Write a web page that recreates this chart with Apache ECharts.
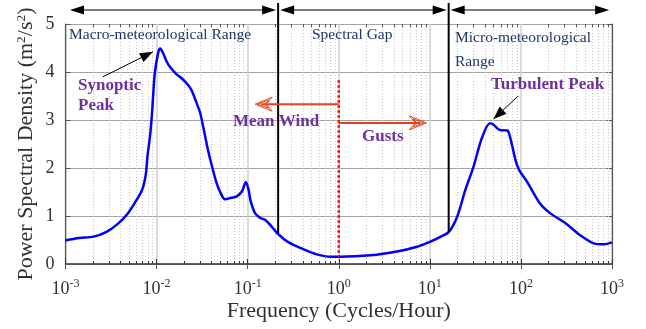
<!DOCTYPE html>
<html>
<head>
<meta charset="utf-8">
<script src="https://cdn.jsdelivr.net/npm/echarts@6/dist/echarts.min.js"></script>
<style>
  html, body { margin: 0; padding: 0; background: #fff; }
  #chart { width: 646px; height: 329px; }
</style>
</head>
<body>
<div id="chart"></div>
<script>
// Wind-speed power spectrum (van der Hoven style)
const freq = [0.001, 0.00141, 0.00204, 0.00282, 0.00372, 0.00468, 0.00575, 0.00692, 0.00759, 0.00794,
  0.00851, 0.00891, 0.00955, 0.01047, 0.01096, 0.01175, 0.01288, 0.01413, 0.0166, 0.0191,
  0.0224, 0.0245, 0.0282, 0.0302, 0.0355, 0.0389, 0.0457, 0.0513, 0.0562, 0.0661,
  0.0759, 0.0871, 0.0955, 0.1023, 0.1072, 0.1202, 0.138, 0.155, 0.178, 0.214,
  0.282, 0.407, 0.575, 0.813, 1.02, 2.24, 4.37, 7.24, 10, 13.2,
  16.2, 20, 24.5, 30.2, 37.2, 45.7, 50.1, 58.9, 70.8, 75.9,
  87.1, 95.5, 117, 162, 209, 309, 447, 631, 813, 1000];
const psd = [0.49, 0.54, 0.57, 0.67, 0.83, 1.02, 1.27, 1.54, 1.85, 2.24,
  2.70, 3.14, 3.97, 4.42, 4.49, 4.40, 4.22, 4.10, 3.95, 3.86,
  3.72, 3.60, 3.30, 3.14, 2.50, 2.17, 1.68, 1.45, 1.35, 1.38,
  1.41, 1.52, 1.71, 1.55, 1.33, 1.06, 0.96, 0.92, 0.81, 0.63,
  0.45, 0.31, 0.20, 0.15, 0.15, 0.18, 0.26, 0.36, 0.46, 0.57,
  0.67, 0.99, 1.54, 2.03, 2.62, 2.93, 2.90, 2.79, 2.78, 2.65,
  2.17, 1.96, 1.71, 1.26, 1.06, 0.85, 0.60, 0.43, 0.41, 0.45];

// Range boundaries (cycles/hour) and the spectrum level where each boundary line stops
const rangeBounds = [0.216, 16.1];
const boundLevels = [0.63, 0.67];
const splitFreq = 1.0;      // mean wind / gusts divide
const splitTop = 3.83;
const splitLevel = 0.15;
const meanWindArrow = { from: 1.0, to: 0.121, level: 3.33 };
const gustArrow = { from: 1.0, to: 9.16, level: 2.94 };
const synopticArrow = { from: [0.00257, 3.90], to: [0.00912, 4.42] };
const turbulentArrow = { from: [93.3, 3.5], to: [50.1, 3.02] };

const xMin = 0.001, xMax = 1000;
const yMin = 0, yMax = 5;

// minor log gridline positions 2..9 x 10^k
const minorFreqs = [];
for (let k = -3; k < 3; k++) {
  for (let m = 2; m <= 9; m++) minorFreqs.push(m * Math.pow(10, k));
}

const FONT = 'Liberation Serif';
const NAVY = '#1f3767';
const PURPLE = '#7030a0';
const RED = '#e8401c';
const INK = '#303030';

const chart = echarts.init(document.getElementById('chart'));

const supRich = {
  b: { fontFamily: FONT, fontSize: 18, color: INK, lineHeight: 22 },
  s: { fontFamily: FONT, fontSize: 12, color: INK, lineHeight: 22, padding: [0, 0, 10, 0] }
};

const gridBox = { left: 65.5, right: 34, top: 24, bottom: 65 };

chart.setOption({
  animation: false,
  grid: Object.assign({ containLabel: false, outerBoundsMode: 'none' }, gridBox),
  xAxis: [{
    type: 'log', logBase: 10, min: xMin, max: xMax,
    name: 'Frequency (Cycles/Hour)', nameLocation: 'middle', nameGap: 36,
    nameMoveOverlap: false,
    nameTextStyle: { fontFamily: FONT, fontSize: 22, color: INK },
    axisLine: { show: true, lineStyle: { color: '#333', width: 1.5 } },
    axisTick: { show: true, inside: true, length: 5, lineStyle: { color: '#333', width: 1 } },
    axisLabel: {
      margin: 14,
      formatter: v => '{b|10}{s|' + Math.round(Math.log10(v)) + '}',
      rich: supRich
    },
    splitLine: { show: true, lineStyle: { color: '#cfcfcf', width: 1.5 } }
  }, {
    type: 'log', logBase: 10, min: xMin, max: xMax, position: 'top',
    axisLine: { show: true, lineStyle: { color: '#555', width: 1.2 } },
    axisTick: { show: true, inside: true, length: 5, lineStyle: { color: '#555' } },
    axisLabel: { show: false }, splitLine: { show: false }
  }],
  yAxis: [{
    type: 'value', min: yMin, max: yMax, interval: 1,
    name: '{a|Power Spectral Density (m}{s|2}{a|/s}{s|2}{a|)}',
    nameLocation: 'middle', nameGap: 26, nameRotate: 90,
    nameMoveOverlap: false,
    nameTextStyle: {
      rich: {
        a: { fontFamily: FONT, fontSize: 22, color: INK, lineHeight: 26 },
        s: { fontFamily: FONT, fontSize: 13.5, color: INK, lineHeight: 26, padding: [0, 0, 11, 0] }
      }
    },
    axisLine: { show: true, lineStyle: { color: '#555', width: 1.2 } },
    axisTick: { show: true, inside: true, length: 5, lineStyle: { color: '#555' } },
    axisLabel: { margin: 11, fontFamily: FONT, fontSize: 18, color: INK },
    splitLine: { show: true, lineStyle: { color: '#a3a3a3', width: 1 } }
  }, {
    type: 'value', min: yMin, max: yMax, interval: 1, position: 'right',
    axisLine: { show: true, lineStyle: { color: '#555', width: 1.2 } },
    axisTick: { show: true, inside: true, length: 5, lineStyle: { color: '#555' } },
    axisLabel: { show: false }, splitLine: { show: false }
  }],
  series: [{
    // dotted minor gridlines and minor ticks
    type: 'custom',
    silent: true, z: 1,
    data: minorFreqs.map(f => [f, 0]),
    encode: { x: 0, y: 1 },
    renderItem: (params, api) => {
      const cs = params.coordSys;
      const x = Math.round(api.coord([api.value(0), 0])[0]) + 0.5;
      const top = cs.y, bot = cs.y + cs.height;
      return {
        type: 'group',
        children: [
          { type: 'line', shape: { x1: x, y1: top, x2: x, y2: bot },
            style: { stroke: '#c4c4c4', lineWidth: 1, lineDash: [1, 2] } },
          { type: 'line', shape: { x1: x, y1: bot, x2: x, y2: bot - 3 },
            style: { stroke: '#333', lineWidth: 1 } },
          { type: 'line', shape: { x1: x, y1: top, x2: x, y2: top + 3 },
            style: { stroke: '#555', lineWidth: 1 } }
        ]
      };
    }
  }, {
    type: 'line',
    data: freq.map((f, i) => [f, psd[i]]),
    smooth: 0.3,
    showSymbol: false,
    z: 5,
    lineStyle: { color: '#0000ff', width: 2.5 }
  }]
});

// ---- annotations placed through the axis scales ----
const px = (f, v) => chart.convertToPixel({ xAxisIndex: 0, yAxisIndex: 0 }, [f, v]);

function headPts(tip, from, len, half, notch) {
  const dx = tip[0] - from[0], dy = tip[1] - from[1];
  const L = Math.hypot(dx, dy);
  const ux = dx / L, uy = dy / L, nx = -uy, ny = ux;
  const bx = tip[0] - ux * len, by = tip[1] - uy * len;
  const pts = [tip, [bx + nx * half, by + ny * half]];
  if (notch) pts.push([tip[0] - ux * (len - notch), tip[1] - uy * (len - notch)]);
  pts.push([bx - nx * half, by - ny * half]);
  return pts;
}

const g = [];
const topY = 10;
const lineTopY = 3;

// range boundary lines
rangeBounds.forEach((f, i) => {
  const p = px(f, boundLevels[i]);
  g.push({ type: 'line', z: 20, shape: { x1: p[0], y1: lineTopY, x2: p[0], y2: p[1] },
    style: { stroke: '#000', lineWidth: 2 } });
});

// double-ended range arrows along the top
const xs = [px(xMin * 1.12, 0)[0], px(rangeBounds[0], 0)[0], px(rangeBounds[1], 0)[0], px(xMax * 0.93, 0)[0]];
for (let i = 0; i < 3; i++) {
  const a = xs[i] + (i === 0 ? 0 : 2), b = xs[i + 1] - (i === 2 ? 0 : 2);
  g.push({ type: 'line', z: 20, shape: { x1: a + 8, y1: topY, x2: b - 8, y2: topY },
    style: { stroke: '#000', lineWidth: 1.2 } });
  g.push({ type: 'polygon', z: 20, shape: { points: headPts([a, topY], [b, topY], 14, 4.5) },
    style: { fill: '#000' } });
  g.push({ type: 'polygon', z: 20, shape: { points: headPts([b, topY], [a, topY], 14, 4.5) },
    style: { fill: '#000' } });
}

// mean wind / gust split
const sTop = px(splitFreq, splitTop), sBot = px(splitFreq, splitLevel);
g.push({ type: 'line', z: 20, shape: { x1: sTop[0], y1: sTop[1], x2: sBot[0], y2: sBot[1] },
  style: { stroke: '#ff0000', lineWidth: 2.5, lineDash: [2.5, 2.5] } });

[meanWindArrow, gustArrow].forEach(a => {
  const p0 = px(a.from, a.level), p1 = px(a.to, a.level);
  const dir = Math.sign(p1[0] - p0[0]);
  g.push({ type: 'line', z: 21, shape: { x1: p0[0], y1: p0[1], x2: p1[0] - dir * 6, y2: p1[1] },
    style: { stroke: RED, lineWidth: 2 } });
  g.push({ type: 'polygon', z: 22, shape: { points: headPts(p1, p0, 17, 7, 6) },
    style: { fill: 'rgba(255,255,255,0)', stroke: RED, lineWidth: 1 } });
  g.push({ type: 'polygon', z: 22, shape: { points: headPts([p1[0] - dir * 2.5, p1[1]], p0, 11, 4, 4) },
    style: { fill: 'rgba(255,255,255,0)', stroke: RED, lineWidth: 1 } });
});

// peak pointer arrows
[synopticArrow, turbulentArrow].forEach(a => {
  const p0 = px(a.from[0], a.from[1]), p1 = px(a.to[0], a.to[1]);
  g.push({ type: 'line', z: 20, shape: { x1: p0[0], y1: p0[1], x2: p1[0], y2: p1[1] },
    style: { stroke: '#000', lineWidth: 1 } });
  g.push({ type: 'polygon', z: 20, shape: { points: headPts(p1, p0, 13, 5) },
    style: { fill: '#000' } });
});

// text labels
const label = (x, y, text, color, bold, size) => ({
  type: 'text', z: 30, x, y,
  style: { text, fill: color, font: (bold ? 'bold ' : '') + size + 'px "' + FONT + '"',
    textVerticalAlign: 'middle', lineHeight: 24 }
});
g.push(label(69, 35, 'Macro-meteorological Range', NAVY, false, 15.5));
g.push(label(312, 35, 'Spectral Gap', NAVY, false, 15.5));
g.push(label(455, 38, 'Micro-meteorological', NAVY, false, 15.5));
g.push(label(455, 62, 'Range', NAVY, false, 15.5));
g.push(label(78, 86, 'Synoptic', PURPLE, true, 17));
g.push(label(78, 106, 'Peak', PURPLE, true, 17));
g.push(label(233, 122, 'Mean Wind', PURPLE, true, 17));
g.push(label(362, 137, 'Gusts', PURPLE, true, 17));
g.push(label(491, 85, 'Turbulent Peak', PURPLE, true, 17));

chart.setOption({ graphic: g });
</script>
</body>
</html>
